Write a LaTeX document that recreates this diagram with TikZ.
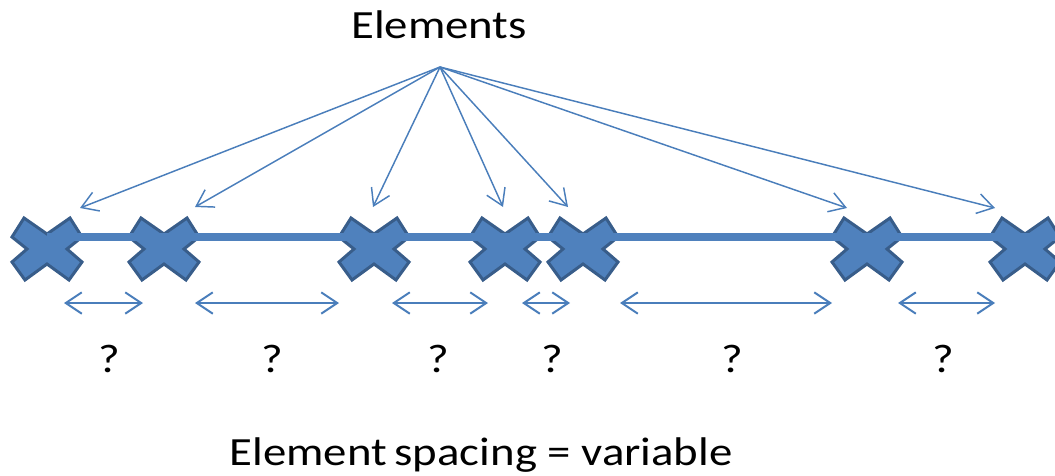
\documentclass[tikz,border=0pt]{standalone}
\usepackage{fontspec}
\setmainfont{Carlito}
\usetikzlibrary{arrows.meta}
\definecolor{elemfill}{HTML}{4F81BD}
\definecolor{elemedge}{HTML}{385D8A}
\definecolor{arrowblue}{HTML}{4A7EBB}
\tikzset{
  elemx/.pic={\draw[line width=2.25pt,draw=elemedge,fill=elemfill,line join=miter]
    (-35,-12)--(-23,-31)--(0,-15)--(23,-31)--(35,-12)--(20,0)--(35,13)--(22,31)--(0,15)--(-22,31)--(-35,13)--(-20,0)--cycle;},
  fan/.style={arrowblue,line width=1.1pt,-{Straight Barb[length=12pt,width=15pt]}},
  gap/.style={arrowblue,line width=1.5pt,{Straight Barb[length=12pt,width=16pt]}-{Straight Barb[length=12pt,width=16pt]}},
  lbl/.style={font=\fontsize{30}{36}\selectfont,inner sep=0pt,anchor=base,xscale=1.17}
}
\begin{document}
\begin{tikzpicture}[x=0.75pt,y=-0.75pt]
\useasboundingbox (0,0) rectangle (1055,475);
\node[lbl] (elements) at (439,38) {Elements};
\coordinate (hub) at (440,67);
% the elements on the line
\foreach \n/\x in {1/47,2/164,3/374,4/505,5/583,6/867,7/1025}{
  \coordinate (e\n) at (\x,249);
  \pic at (e\n) {elemx};
}
\coordinate (lineend) at (1055,237);
\draw[elemfill,line width=6pt] (e1) ++(0,-12) -- (lineend);
% arrows from the label
\foreach \n/\x/\y in {1/80/208,2/195/207,3/373/207,4/503/207,5/568/207,6/847/208,7/995/208}{
  \coordinate (t\n) at (\x,\y);
  \draw[fan] (hub) -- (t\n);
}
% spacings
\foreach \n/\a/\b/\q in {1/64/143/109,2/195/339/272,3/392/488/438,4/522/570/552,5/620/832/732,6/898/995/943}{
  \coordinate (l\n) at (\a,303);
  \coordinate (r\n) at (\b,303);
  \draw[gap] (l\n) -- (r\n);
  \node[lbl] (q\n) at (\q,372) {?};
}
\node[lbl] (spacing) at (481,465) {Element\,spacing = variable};
\end{tikzpicture}
\end{document}
